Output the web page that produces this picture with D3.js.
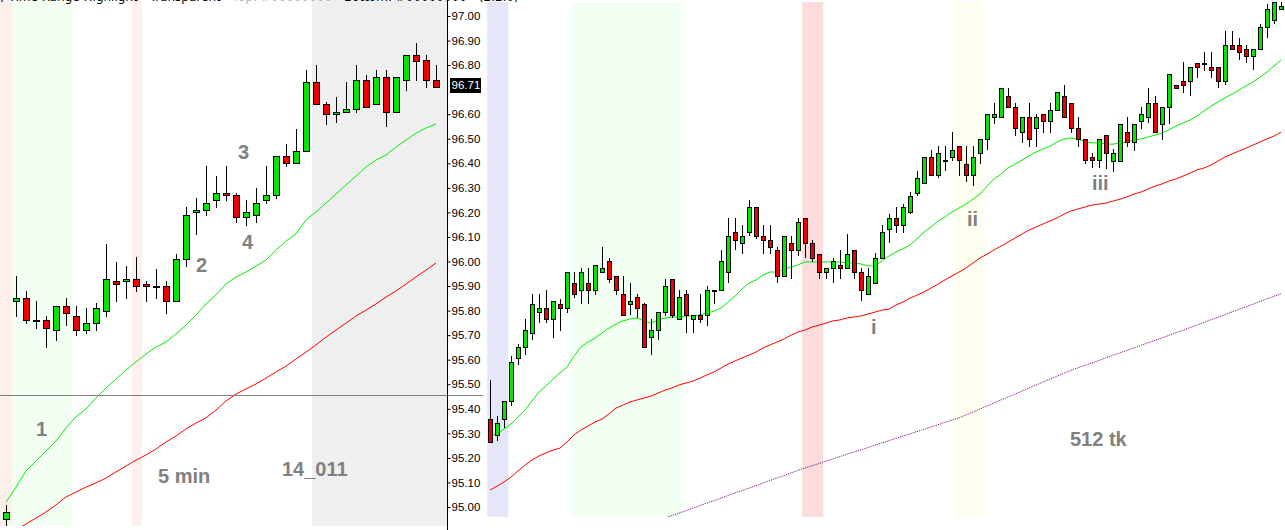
<!DOCTYPE html>
<html><head><meta charset="utf-8">
<script src="https://cdn.jsdelivr.net/npm/d3@7/dist/d3.min.js"></script>
<style>html,body{margin:0;padding:0;background:#fff;}svg{display:block;}</style>
</head><body>
<svg id="chart" width="1285" height="530"></svg>
<script>
// ---------------- DATA ----------------
// Left chart: 5 min bars  [open, high, low, close]
const left5mOHLC = [
 [94.95,95.01,94.92,94.98],[95.84,95.94,95.78,95.85],[95.85,95.88,95.75,95.76],[95.76,95.84,95.73,95.76],
 [95.76,95.78,95.65,95.73],[95.72,95.82,95.68,95.82],[95.82,95.85,95.74,95.79],[95.78,95.82,95.70,95.72],
 [95.72,95.81,95.71,95.75],[95.75,95.83,95.72,95.81],[95.80,96.07,95.78,95.93],[95.92,96.00,95.84,95.91],
 [95.92,95.98,95.85,95.93],[95.93,96.02,95.88,95.90],[95.91,95.92,95.84,95.90],[95.90,95.97,95.85,95.90],
 [95.90,95.92,95.79,95.84],[95.84,96.03,95.84,96.01],[96.01,96.22,95.98,96.19],[96.20,96.26,96.11,96.21],
 [96.21,96.39,96.19,96.24],[96.25,96.35,96.22,96.28],[96.28,96.39,96.25,96.27],[96.27,96.28,96.16,96.18],
 [96.18,96.25,96.15,96.20],[96.19,96.30,96.16,96.24],[96.25,96.39,96.24,96.27],[96.27,96.43,96.26,96.43],
 [96.43,96.48,96.39,96.40],[96.40,96.54,96.40,96.45],[96.45,96.78,96.45,96.73],[96.73,96.80,96.64,96.64],
 [96.64,96.65,96.56,96.60],[96.60,96.67,96.57,96.61],[96.61,96.73,96.61,96.62],[96.62,96.80,96.61,96.74],
 [96.74,96.76,96.63,96.63],[96.64,96.78,96.64,96.75],[96.75,96.78,96.55,96.61],[96.61,96.75,96.61,96.75],
 [96.74,96.84,96.70,96.84],[96.84,96.89,96.74,96.815],[96.82,96.84,96.71,96.74],[96.74,96.80,96.71,96.71]
];
const left5mFastMA = [95.020,95.081,95.147,95.187,95.228,95.269,95.322,95.367,95.399,95.444,95.485,95.521,95.558,95.591,95.623,95.652,95.672,95.705,95.741,95.782,95.827,95.864,95.908,95.937,95.957,95.982,96.006,96.047,96.083,96.112,96.169,96.202,96.238,96.275,96.312,96.348,96.385,96.413,96.434,96.466,96.495,96.523,96.544,96.560];
const left5mSlowMA = [94.882,94.906,94.931,94.955,94.980,95.008,95.041,95.061,95.081,95.098,95.118,95.143,95.167,95.191,95.212,95.236,95.265,95.289,95.318,95.342,95.363,95.395,95.432,95.460,95.481,95.501,95.525,95.550,95.574,95.603,95.631,95.660,95.692,95.721,95.749,95.778,95.802,95.827,95.855,95.880,95.908,95.937,95.965,95.994];

// Right chart: 512 tick bars [open, high, low, close]
const right512OHLC = [
 [95.358,95.517,95.266,95.266],[95.293,95.371,95.273,95.341],[95.357,95.430,95.327,95.430],[95.430,95.617,95.417,95.589],
 [95.606,95.663,95.581,95.650],[95.650,95.764,95.622,95.720],[95.707,95.868,95.683,95.826],[95.793,95.868,95.755,95.809],
 [95.809,95.884,95.755,95.764],[95.764,95.838,95.694,95.838],[95.826,95.846,95.722,95.809],[95.809,95.956,95.796,95.956],
 [95.911,95.956,95.857,95.866],[95.883,95.972,95.830,95.956],[95.911,95.972,95.830,95.883],[95.883,95.984,95.868,95.984],
 [95.956,96.058,95.956,95.972],[96.001,96.013,95.915,95.927],[95.940,95.940,95.866,95.883],[95.866,95.940,95.781,95.781],
 [95.826,95.911,95.785,95.838],[95.854,95.866,95.773,95.809],[95.826,95.830,95.650,95.650],[95.691,95.764,95.622,95.720],
 [95.720,95.793,95.683,95.793],[95.793,95.927,95.781,95.899],[95.927,95.927,95.773,95.781],[95.764,95.884,95.764,95.854],
 [95.866,95.884,95.712,95.781],[95.764,95.781,95.712,95.781],[95.781,95.866,95.755,95.764],[95.781,95.899,95.740,95.883],
 [95.883,95.883,95.830,95.883],[95.883,96.045,95.883,96.001],[95.956,96.176,95.915,96.103],[96.119,96.176,96.050,96.086],
 [96.074,96.147,96.033,96.103],[96.119,96.249,96.107,96.221],[96.221,96.221,96.095,96.103],[96.103,96.147,96.033,96.086],
 [96.086,96.147,96.033,96.058],[96.045,96.058,95.915,95.940],[95.940,96.103,95.940,96.103],[96.074,96.103,95.932,96.045],
 [96.045,96.176,96.025,96.160],[96.176,96.176,96.017,96.074],[96.074,96.086,96.001,96.013],[96.029,96.029,95.932,95.956],
 [95.956,95.972,95.932,95.972],[95.972,96.013,95.915,96.001],[95.984,96.045,95.932,95.972],[95.972,96.111,95.972,96.029],
 [96.045,96.045,95.932,95.956],[95.956,95.972,95.842,95.883],[95.866,95.972,95.866,95.940],[95.911,96.033,95.911,96.013],
 [96.013,96.147,96.013,96.119],[96.131,96.192,96.078,96.176],[96.176,96.221,96.119,96.147],[96.147,96.233,96.119,96.221],
 [96.203,96.284,96.196,96.265],[96.280,96.369,96.271,96.339],[96.321,96.424,96.321,96.424],[96.424,96.454,96.351,96.351],
 [96.351,96.470,96.343,96.441],[96.413,96.470,96.373,96.413],[96.424,96.529,96.413,96.454],[96.469,96.469,96.352,96.413],
 [96.396,96.470,96.327,96.351],[96.351,96.470,96.312,96.424],[96.441,96.498,96.400,96.498],[96.498,96.601,96.457,96.601],
 [96.587,96.644,96.563,96.601],[96.587,96.705,96.587,96.705],[96.674,96.705,96.631,96.631],[96.631,96.644,96.515,96.542],
 [96.526,96.587,96.488,96.587],[96.587,96.644,96.470,96.498],[96.542,96.601,96.470,96.587],[96.601,96.601,96.529,96.571],
 [96.571,96.644,96.526,96.616],[96.616,96.689,96.616,96.689],[96.674,96.719,96.587,96.587],[96.644,96.644,96.526,96.542],
 [96.542,96.587,96.470,96.498],[96.498,96.498,96.400,96.413],[96.424,96.441,96.384,96.413],[96.413,96.497,96.386,96.497],
 [96.514,96.514,96.382,96.440],[96.411,96.457,96.370,96.440],[96.411,96.559,96.411,96.559],[96.526,96.588,96.470,96.485],
 [96.485,96.559,96.454,96.559],[96.571,96.628,96.542,96.599],[96.587,96.705,96.567,96.644],[96.644,96.673,96.526,96.526],
 [96.559,96.630,96.501,96.630],[96.630,96.762,96.563,96.762],[96.717,96.717,96.705,96.705],[96.734,96.811,96.692,96.717],
 [96.734,96.791,96.677,96.791],[96.807,96.807,96.750,96.791],[96.807,96.852,96.779,96.807],[96.791,96.852,96.750,96.779],
 [96.791,96.791,96.709,96.734],[96.734,96.937,96.721,96.880],[96.880,96.937,96.864,96.864],[96.880,96.909,96.823,96.852],
 [96.864,96.880,96.811,96.836],[96.836,96.864,96.783,96.864],[96.864,96.967,96.864,96.954],[96.954,97.050,96.913,97.027],
 [96.982,97.060,96.970,97.058],[97.027,97.058,97.027,97.041]
];
const right512FastMA = [95.293,95.297,95.318,95.338,95.366,95.395,95.432,95.468,95.493,95.521,95.546,95.570,95.615,95.652,95.672,95.688,95.709,95.729,95.745,95.758,95.766,95.770,95.758,95.749,95.762,95.770,95.774,95.774,95.778,95.778,95.782,95.790,95.798,95.810,95.835,95.859,95.888,95.912,95.925,95.945,95.957,95.957,95.969,95.977,95.986,95.998,95.998,95.998,95.998,95.998,95.998,95.994,95.994,95.990,95.982,95.982,96.002,96.022,96.039,96.051,96.067,96.092,96.120,96.140,96.165,96.181,96.202,96.218,96.234,96.254,96.275,96.307,96.336,96.356,96.381,96.397,96.413,96.430,96.446,96.458,96.470,96.487,96.499,96.503,96.499,96.487,96.483,96.483,96.478,96.478,96.483,96.487,96.495,96.499,96.507,96.515,96.523,96.536,96.552,96.564,96.576,96.593,96.613,96.633,96.650,96.666,96.682,96.698,96.715,96.731,96.751,96.772,96.796,96.821];
const right512SlowMA = [95.069,95.085,95.102,95.122,95.147,95.171,95.191,95.208,95.220,95.232,95.240,95.265,95.293,95.314,95.330,95.346,95.358,95.379,95.403,95.415,95.428,95.436,95.444,95.452,95.464,95.476,95.485,95.497,95.505,95.513,95.525,95.538,95.550,95.566,95.582,95.595,95.607,95.619,95.631,95.648,95.660,95.672,95.684,95.700,95.713,95.721,95.733,95.741,95.749,95.758,95.762,95.770,95.774,95.778,95.786,95.794,95.802,95.806,95.823,95.835,95.851,95.863,95.876,95.892,95.908,95.925,95.941,95.957,95.973,95.994,96.014,96.030,96.047,96.063,96.079,96.096,96.112,96.128,96.140,96.153,96.165,96.177,96.193,96.206,96.214,96.222,96.230,96.234,96.238,96.246,96.254,96.263,96.275,96.283,96.295,96.307,96.316,96.328,96.336,96.348,96.360,96.373,96.381,96.393,96.409,96.426,96.438,96.450,96.462,96.474,96.487,96.499,96.511,96.527];
// long MA (dotted), starts at bar 24
const right512LongMAStart = 24;
const right512LongMA = [94.945,94.955,94.965,94.975,94.985,94.996,95.006,95.016,95.026,95.036,95.047,95.057,95.067,95.077,95.087,95.098,95.108,95.118,95.128,95.139,95.149,95.159,95.168,95.177,95.187,95.196,95.205,95.215,95.224,95.233,95.242,95.252,95.261,95.270,95.280,95.289,95.298,95.307,95.317,95.326,95.335,95.345,95.354,95.363,95.375,95.387,95.399,95.412,95.424,95.436,95.448,95.460,95.472,95.485,95.497,95.509,95.521,95.533,95.545,95.557,95.567,95.577,95.587,95.597,95.608,95.618,95.628,95.638,95.648,95.658,95.669,95.679,95.689,95.699,95.710,95.720,95.731,95.741,95.752,95.763,95.773,95.784,95.794,95.805,95.816,95.826,95.837,95.848,95.858,95.869];

// time-range highlight bands (bar index ranges)
const leftBands = [[-0.6,0.6,"#fdefea"],[0.6,6.6,"#f3fff3"],[12.6,13.6,"#fff0f0"],[30.6,45,"#efefef"]];
const rightBands = [[-0.4,2.6,"#e6e6fa"],[11.6,27.6,"#f3fff3"],[44.6,47.6,"#fadcdc"],[66.4,70.4,"#fffff0"]];

// 96.70 is hidden behind the last-price marker
const priceTicks = [95.0,95.1,95.2,95.3,95.4,95.5,95.6,95.7,95.8,95.9,96.0,96.1,96.2,96.3,96.4,96.5,96.6,96.8,96.9,97.0];
const lastPrice = 96.71;
const horizontalLevel = 95.455;

// annotation labels [text, x, y]
const labels = [["1",36,436],["2",196,272],["3",238,159],["4",242,249],["5 min",158,483],["14_011",282,476],
                ["i",871,334],["ii",967,226],["iii",1092,190],["512 tk",1070,446]];

// ---------------- DRAW ----------------
const svg = d3.select("#chart");
svg.append("rect").attr("width",1285).attr("height",530).attr("fill","#fff");

const y = d3.scaleLinear().domain([95, 97]).range([507, 16]);
const xL = d3.scaleLinear().domain([0, 43]).range([6, 436]);
const xR = d3.scaleLinear().domain([0, 113]).range([490, 1281]);

const defs = svg.append("defs");
defs.append("clipPath").attr("id","clipL").append("rect").attr("x",0).attr("y",0).attr("width",447).attr("height",526);
defs.append("clipPath").attr("id","clipR").append("rect").attr("x",487).attr("y",2).attr("width",798).attr("height",515);

const gL = svg.append("g").attr("clip-path","url(#clipL)");
const gR = svg.append("g").attr("clip-path","url(#clipR)");

function bands(g, list, x, x0, x1, y0, y1){
  g.selectAll("rect.band").data(list).join("rect").attr("class","band")
   .attr("x", d => Math.max(x0, x(d[0])))
   .attr("width", d => Math.min(x1, x(d[1])) - Math.max(x0, x(d[0])))
   .attr("y", y0).attr("height", y1 - y0).attr("fill", d => d[2]);
}
bands(gL, leftBands, xL, 0, 447, 0, 526);
bands(gR, rightBands, xR, 487, 1285, 2, 517);

// horizontal gray level line
svg.append("line").attr("x1",0).attr("x2",483)
  .attr("y1", Math.round(y(horizontalLevel))+0.5).attr("y2", Math.round(y(horizontalLevel))+0.5)
  .attr("stroke","#808080").attr("stroke-width",1);

function maLine(g, vals, x, color, start, dash){
  const line = d3.line().x((d,i)=>x(i+start)).y(d=>y(d));
  const p = g.append("path").datum(vals).attr("d", line).attr("fill","none")
    .attr("stroke", color).attr("stroke-width", 1);
  if (dash) p.attr("stroke-dasharray", dash);
}

function candles(g, data, x, bw){
  const half = (bw-1)/2;
  const cg = g.append("g").attr("shape-rendering","crispEdges");
  cg.selectAll("line").data(data).join("line")
    .attr("x1",(d,i)=>Math.round(x(i))+0.5).attr("x2",(d,i)=>Math.round(x(i))+0.5)
    .attr("y1",d=>Math.round(y(d[1]))).attr("y2",d=>Math.round(y(d[2]))+1)
    .attr("stroke","#000").attr("stroke-width",1);
  cg.selectAll("rect").data(data).join("rect")
    .attr("x",(d,i)=>Math.round(x(i))-half+0.5)
    .attr("width",bw-1)
    .attr("y",d=>Math.round(y(Math.max(d[0],d[3])))+0.5)
    .attr("height",d=>Math.max(1, Math.round(y(Math.min(d[0],d[3]))) - Math.round(y(Math.max(d[0],d[3])))))
    .attr("fill",d=> d[3] < d[0] ? "#ee0000" : "#00e600")
    .attr("stroke","#000").attr("stroke-width",1);
}

maLine(gL, left5mSlowMA, xL, "#ff0000", 0);
maLine(gL, left5mFastMA, xL, "#00ee00", 0);
candles(gL, left5mOHLC, xL, 7);

maLine(gR, right512LongMA, xR, "#800080", right512LongMAStart, "1,1");
maLine(gR, right512SlowMA, xR, "#ff0000", 0);
maLine(gR, right512FastMA, xR, "#00ee00", 0);
candles(gR, right512OHLC, xR, 5);

// price axis of the left chart
svg.append("line").attr("x1",447.5).attr("x2",447.5).attr("y1",0).attr("y2",530)
  .attr("stroke","#000").attr("stroke-width",1);
const ax = svg.append("g").attr("transform","translate(447.5,0)")
  .call(d3.axisRight(y).tickValues(priceTicks).tickSize(3).tickPadding(1).tickFormat(d3.format(".2f")));
ax.select(".domain").remove();
ax.selectAll("text").attr("font-family","'Liberation Sans', Arial, sans-serif").attr("font-size","11.5px").attr("fill","#000");
ax.selectAll("line").attr("stroke","#000");

// last price marker
const lpY = y(lastPrice);
svg.append("rect").attr("x",450).attr("y",Math.round(lpY)-9).attr("width",31).attr("height",15).attr("fill","#000");
svg.append("text").attr("x",451.5).attr("y",Math.round(lpY)-1.5).attr("dy","0.32em")
  .attr("font-family","'Liberation Sans', Arial, sans-serif").attr("font-size","11.5px").attr("fill","#fff").text("96.71");

// annotations
svg.selectAll("text.ann").data(labels).join("text").attr("class","ann")
  .attr("x",d=>d[1]).attr("y",d=>d[2]).text(d=>d[0])
  .attr("font-family","'Liberation Sans', Arial, sans-serif").attr("font-weight","bold")
  .attr("font-size","20px").attr("fill","#808080");

// cut-off indicator title at the very top
const title = svg.append("text").attr("x",0).attr("y",1)
  .attr("font-family","'DejaVu Sans', Tahoma, sans-serif").attr("font-size","12px").attr("fill","#000");
title.append("tspan").text(")  Time Range Highlight  -  Transparent  -  ");
title.append("tspan").attr("fill","#b0b0b0").text("Top: #00000000  -  ");
title.append("tspan").text("Bottom: #00000000  -  (2.2.0)");
</script>
</body></html>
